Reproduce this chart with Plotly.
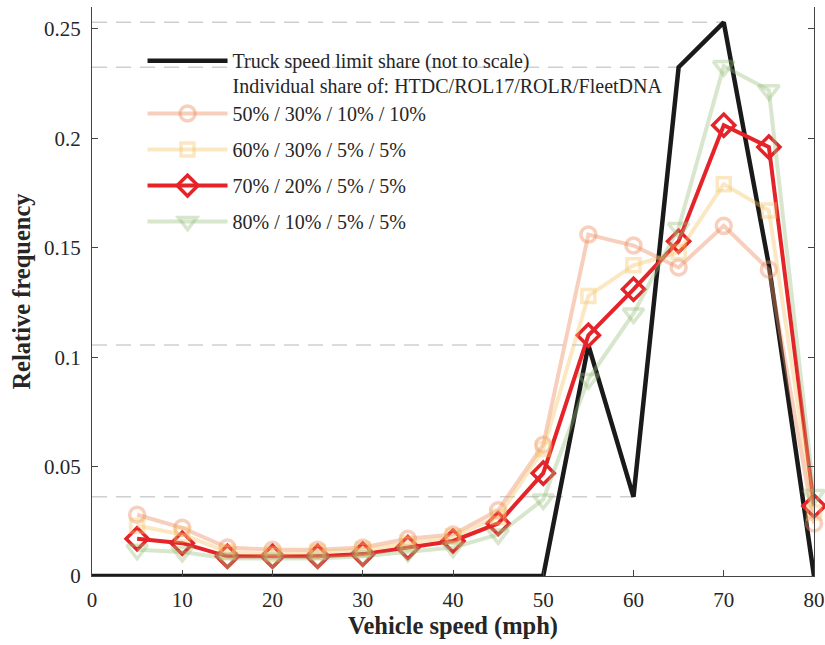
import plotly.graph_objects as go

# Speed bins (mph) and relative frequencies for each blended share
speeds = [5, 10, 15, 20, 25, 30, 35, 40, 45, 50, 55, 60, 65, 70, 75, 80]
share_50 = [0.028, 0.022, 0.013, 0.012, 0.012, 0.013, 0.017, 0.019, 0.030, 0.060,
            0.156, 0.151, 0.141, 0.160, 0.140, 0.024]
share_60 = [0.023, 0.019, 0.011, 0.010, 0.011, 0.012, 0.015, 0.018, 0.027, 0.058,
            0.128, 0.142, 0.148, 0.179, 0.167, 0.029]
share_70 = [0.017, 0.015, 0.009, 0.009, 0.009, 0.010, 0.013, 0.016, 0.024, 0.047,
            0.110, 0.131, 0.153, 0.206, 0.196, 0.032]
share_80 = [0.012, 0.011, 0.008, 0.008, 0.008, 0.009, 0.011, 0.013, 0.019, 0.035,
            0.090, 0.120, 0.159, 0.233, 0.222, 0.037]

# Truck speed limit share (not to scale)
limit_speeds = [0, 5, 10, 15, 20, 25, 30, 35, 40, 45, 50, 55, 60, 65, 70, 75, 80]
limit_share = [0, 0, 0, 0, 0, 0, 0, 0, 0, 0, 0, 0.1055, 0.0362, 0.2325, 0.253, 0.142, 0]
# Speeds whose limit share gets a horizontal guide line
guide_speeds = [55, 60, 65, 70]

series_names = ["50% / 30% / 10% / 10%", "60% / 30% / 5% / 5%",
                "70% / 20% / 5% / 5%", "80% / 10% / 5% / 5%"]
limit_name = "Truck speed limit share (not to scale)"
share_header = "Individual share of: HTDC/ROL17/ROLR/FleetDNA"

x_ticks = [0, 10, 20, 30, 40, 50, 60, 70, 80]
y_ticks = [0, 0.05, 0.1, 0.15, 0.2, 0.25]
y_tick_text = ["0", "0.05", "0.1", "0.15", "0.2", "0.25"]

FONT = "Liberation Serif"
TEXT = "#262626"
LEG_FONT = dict(family=FONT, size=20, color=TEXT)

fig = go.Figure()

# dashed guides from the y axis to selected limit-share points
for s in guide_speeds:
    v = limit_share[limit_speeds.index(s)]
    fig.add_trace(go.Scatter(
        x=[0, s], y=[v, v], mode="lines", showlegend=False, hoverinfo="skip",
        line=dict(color="#cfcfcf", width=1.5, dash="15px,9px")))

fig.add_trace(go.Scatter(
    x=limit_speeds, y=limit_share, mode="lines", name=limit_name,
    line=dict(color="#1a1a1a", width=4.5), legend="legend",
    cliponaxis=False))
# header row: text only
fig.add_trace(go.Scatter(
    x=[None], y=[None], mode="lines", name=share_header,
    line=dict(color="rgba(0,0,0,0)", width=1), legend="legend3"))

fig.add_trace(go.Scatter(
    x=speeds, y=share_70, mode="lines+markers", name=series_names[2],
    line=dict(color="#e5242a", width=4),
    marker=dict(symbol="diamond-open", size=17, color="#e5242a",
                line=dict(width=3.5, color="#e5242a")),
    legend="legend2", legendgroup="g3", legendrank=3, cliponaxis=False))

styles = [
    (share_50, series_names[0], "circle-open", 15, "rgba(236,140,95,0.42)", "g1", 1),
    (share_60, series_names[1], "square-open", 13, "rgba(245,195,95,0.38)", "g2", 2),
    (share_80, series_names[3], "triangle-down-open", 18, "rgba(150,190,120,0.38)", "g4", 4),
]
for vals, name, sym, size, col, grp, rank in styles:
    fig.add_trace(go.Scatter(
        x=speeds, y=vals, mode="lines+markers", name=name,
        line=dict(color=col, width=4),
        marker=dict(symbol=sym, size=size, color=col, line=dict(width=3.5, color=col)),
        legend="legend2", legendgroup=grp, legendrank=rank, cliponaxis=False))

leg_common = dict(xanchor="left", yanchor="top", bgcolor="rgba(0,0,0,0)",
                  itemwidth=80, font=LEG_FONT)

fig.update_layout(
    width=825, height=645,
    margin=dict(l=92, r=11, t=7, b=69),
    paper_bgcolor="white", plot_bgcolor="white",
    font=dict(family=FONT, color=TEXT, size=20),
    showlegend=True,
    legend=dict(x=0.07, y=0.940, **leg_common),
    legend3=dict(x=0.07, y=0.896, **leg_common),
    legend2=dict(x=0.07, y=0.847, tracegroupgap=7, traceorder="grouped",
                 **leg_common),
    xaxis=dict(range=[0, 80], tickvals=x_ticks, ticks="inside", ticklen=6,
               tickcolor="#444", showline=True, linecolor="#444", linewidth=1,
               showgrid=False, zeroline=False, mirror=False, automargin=False,
               ticklabelstandoff=5,
               tickfont=dict(family=FONT, size=21, color=TEXT),
               title=dict(text="<b>Vehicle speed (mph)</b>", standoff=2,
                          font=dict(family=FONT, size=24.5, color=TEXT))),
    yaxis=dict(range=[0, 0.26], tickvals=y_ticks, ticktext=y_tick_text,
               ticks="inside", ticklen=6, tickcolor="#444", showline=True,
               linecolor="#444", linewidth=1, mirror="ticks", automargin=False,
               showgrid=False, zeroline=False, ticklabelstandoff=6,
               tickfont=dict(family=FONT, size=21, color=TEXT),
               title=dict(text="<b>Relative frequency</b>", standoff=6,
                          font=dict(family=FONT, size=24.5, color=TEXT))),
)

fig.write_html("out.html")
